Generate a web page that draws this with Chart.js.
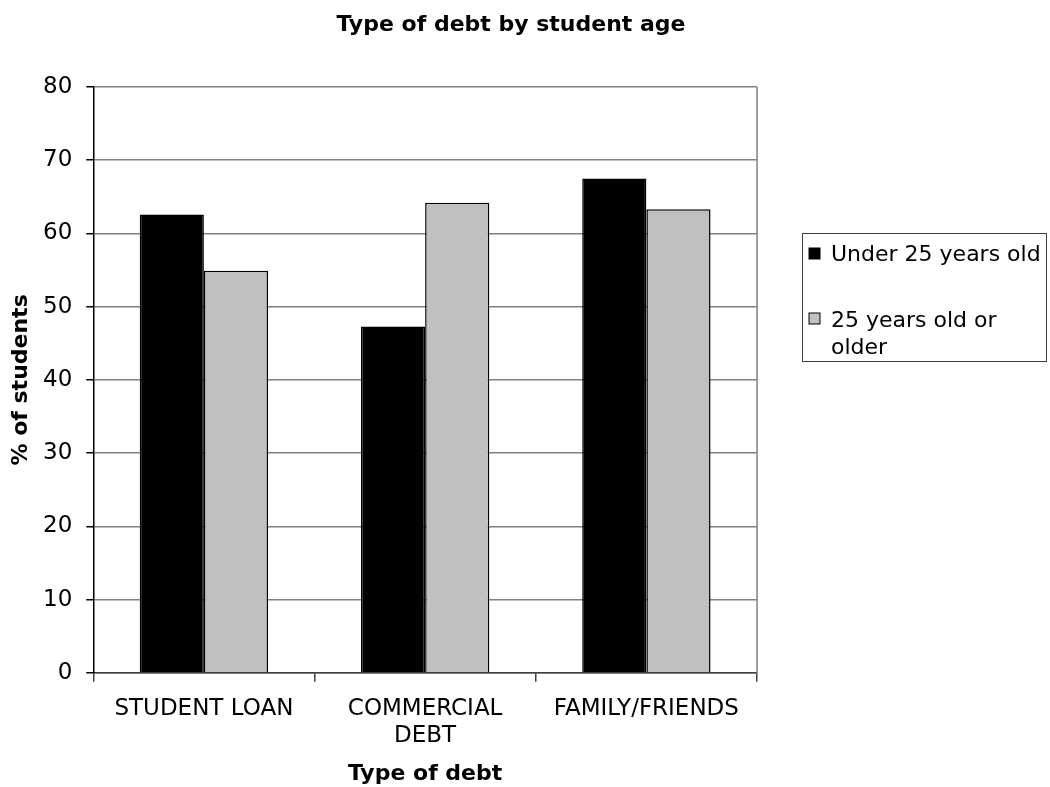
<!DOCTYPE html>
<html>
<head>
<meta charset="utf-8">
<script src="https://cdn.jsdelivr.net/npm/chart.js@4.4.0/dist/chart.umd.min.js"></script>
<style>
  html, body { margin: 0; padding: 0; background: #ffffff; }
  #wrap { width: 1050px; height: 787px; position: relative; }
</style>
</head>
<body>
<div id="wrap"><canvas id="chart" width="1050" height="787"></canvas></div>
<script>
// Debt types and share of students (%) holding each, split by age group
const categories = ['STUDENT LOAN', ['COMMERCIAL', 'DEBT'], 'FAMILY/FRIENDS'];
const under25 = [62.6, 47.3, 67.5];
const age25Plus = [54.9, 64.2, 63.3];
const seriesNames = ['Under 25 years old', '25 years old or older'];
const legendLines = [['Under 25 years old'], ['25 years old or', 'older']];
const yTickValues = [0, 10, 20, 30, 40, 50, 60, 70, 80];

const chartTitle = 'Type of debt by student age';
const xTitle = 'Type of debt';
const yTitle = '% of students';

const FONT = "'DejaVu Sans', Verdana, sans-serif";
const seriesColors = ['#000000', '#c0c0c0'];

// Title, right-hand frame edge and boxed legend
const decorations = {
  id: 'decorations',
  afterDatasetsDraw(chart) {
    const { ctx, chartArea } = chart;
    ctx.save();
    ctx.strokeStyle = '#808080';
    ctx.lineWidth = 1.5;
    ctx.beginPath();
    ctx.moveTo(chartArea.right, chartArea.top);
    ctx.lineTo(chartArea.right, chartArea.bottom);
    ctx.stroke();
    ctx.restore();
  },
  afterDraw(chart) {
    const { ctx, chartArea } = chart;
    ctx.save();
    // chart title
    ctx.fillStyle = '#000';
    ctx.font = 'bold 22px ' + FONT;
    ctx.textAlign = 'center';
    ctx.textBaseline = 'middle';
    ctx.fillText(chartTitle, 511, 25);

    // legend frame
    const bx = chartArea.right + 45.5;
    const by = 233.5;
    ctx.strokeStyle = '#404040';
    ctx.lineWidth = 1;
    ctx.strokeRect(bx, by, 244, 128);

    // legend entries
    ctx.font = '22px ' + FONT;
    ctx.textAlign = 'left';
    ctx.textBaseline = 'alphabetic';
    const baselines = [[261], [327, 354]];
    const squareTops = [248, 313];
    chart.data.datasets.forEach((ds, i) => {
      ctx.fillStyle = ds.backgroundColor;
      ctx.fillRect(bx + 6.5, squareTops[i], 11, 11);
      ctx.strokeStyle = '#000';
      ctx.strokeRect(bx + 6.5, squareTops[i], 11, 11);
      ctx.fillStyle = '#000';
      legendLines[i].forEach((line, j) => {
        ctx.fillText(line, bx + 28.5, baselines[i][j]);
      });
    });
    ctx.restore();
  }
};

new Chart(document.getElementById('chart'), {
  type: 'bar',
  data: {
    labels: categories,
    datasets: [
      {
        label: seriesNames[0],
        data: under25,
        backgroundColor: seriesColors[0],
        borderColor: '#000',
        borderWidth: 1.5,
        categoryPercentage: 0.58,
        barPercentage: 1.0
      },
      {
        label: seriesNames[1],
        data: age25Plus,
        backgroundColor: seriesColors[1],
        borderColor: '#000',
        borderWidth: 1.5,
        categoryPercentage: 0.58,
        barPercentage: 1.0
      }
    ]
  },
  options: {
    responsive: false,
    animation: false,
    devicePixelRatio: 1,
    layout: { padding: { top: 87, right: 293, left: 10, bottom: 0 } },
    plugins: {
      legend: { display: false },
      title: { display: false },
      tooltip: { enabled: false }
    },
    scales: {
      x: {
        grid: {
          drawOnChartArea: false,
          drawTicks: true,
          tickLength: 9,
          tickColor: '#404040',
          lineWidth: 1.5,
          offset: true
        },
        border: { color: '#404040', width: 1.5 },
        ticks: {
          color: '#000',
          font: { family: FONT, size: 23 },
          padding: 13,
          maxRotation: 0,
          autoSkip: false
        },
        title: {
          display: true,
          text: xTitle,
          color: '#000',
          font: { family: FONT, size: 22, weight: 'bold', lineHeight: 1 },
          padding: { top: 0, bottom: 2 }
        }
      },
      y: {
        min: 0,
        max: 80,
        afterBuildTicks(scale) {
          scale.ticks = yTickValues.map(v => ({ value: v }));
        },
        grid: {
          color: '#808080',
          lineWidth: 1.5,
          tickLength: 7,
          tickColor: '#000'
        },
        border: { color: '#000', width: 1.5 },
        ticks: {
          color: '#000',
          font: { family: FONT, size: 23 },
          padding: 14
        },
        title: {
          display: true,
          text: yTitle,
          color: '#000',
          font: { family: FONT, size: 22, weight: 'bold', lineHeight: 1 },
          padding: { top: 0, bottom: -3 }
        }
      }
    }
  },
  plugins: [decorations]
});
</script>
</body>
</html>
